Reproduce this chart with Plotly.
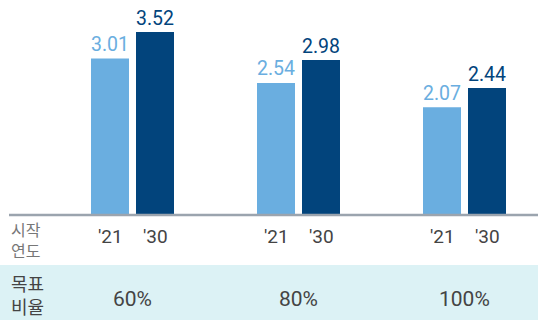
import plotly.graph_objects as go

groups = ["60%", "80%", "100%"]
years = ["'21", "'30"]
vals_21 = [3.01, 2.54, 2.07]
vals_30 = [3.52, 2.98, 2.44]
row1_label = ["시작", "연도"]
row2_label = ["목표", "비율"]

LIGHT = "#6aaee0"
DARK = "#02447c"
W, H = 538, 320
BASE = 215  # baseline pixel
FONT = "Roboto, Noto Sans CJK KR, sans-serif"

def py(px):
    return (BASE - px) / BASE

x = list(range(len(groups)))
fig = go.Figure()
fig.add_bar(x=x, y=vals_21, marker_color=LIGHT, marker_line_width=0,
            text=[f"{v:.2f}" for v in vals_21], textposition="outside",
            textfont=dict(color=LIGHT, size=22, family=FONT), cliponaxis=False)
fig.add_bar(x=x, y=vals_30, marker_color=DARK, marker_line_width=0,
            text=[f"{v:.2f}" for v in vals_30], textposition="outside",
            textfont=dict(color=DARK, size=22, family=FONT), cliponaxis=False)

gw = 166.0
c0 = 132.5
off = 22.5 / gw

shapes = [
    dict(type="rect", xref="paper", yref="paper", x0=0, x1=1, y0=py(265), y1=py(321),
         fillcolor="#dcf2f5", line_width=0, layer="below"),
    dict(type="line", xref="paper", yref="paper", x0=9 / W, x1=1, y0=0, y1=0,
         line=dict(color="#9ba4ae", width=2.5)),
]

ann = []
for i, g in enumerate(groups):
    for j, yr in enumerate(years):
        ann.append(dict(x=i + (off if j else -off), y=py(236), xref="x", yref="paper",
                        xanchor="center", yanchor="middle",
                        text=yr, showarrow=False, font=dict(size=19, color="#444", family=FONT)))
    ann.append(dict(x=i, y=py(299), xref="x", yref="paper", text=g, showarrow=False,
                    xanchor="center", yanchor="middle",
                    font=dict(size=21, color="#444", family=FONT)))
ann.append(dict(x=9 / W, y=py(241), xref="paper", yref="paper", text="<br>".join(row1_label),
                showarrow=False, xanchor="left", yanchor="middle", align="left",
                font=dict(size=16, color="#777", family=FONT)))
ann.append(dict(x=9 / W, y=py(296), xref="paper", yref="paper", text="<br>".join(row2_label),
                showarrow=False, xanchor="left", yanchor="middle", align="left",
                font=dict(size=18, color="#444", family=FONT)))

fig.update_layout(
    width=W, height=H, margin=dict(l=0, r=0, t=0, b=H - BASE),
    barmode="group", bargap=1 - 90 / gw, bargroupgap=1 - 38 / 45,
    plot_bgcolor="white", paper_bgcolor="white", showlegend=False,
    xaxis=dict(range=[-c0 / gw, (W - c0) / gw], visible=False, fixedrange=True),
    yaxis=dict(range=[0, BASE / 52.0], visible=False, fixedrange=True),
    shapes=shapes, annotations=ann, font=dict(family=FONT),
)
fig.write_html("out.html")
